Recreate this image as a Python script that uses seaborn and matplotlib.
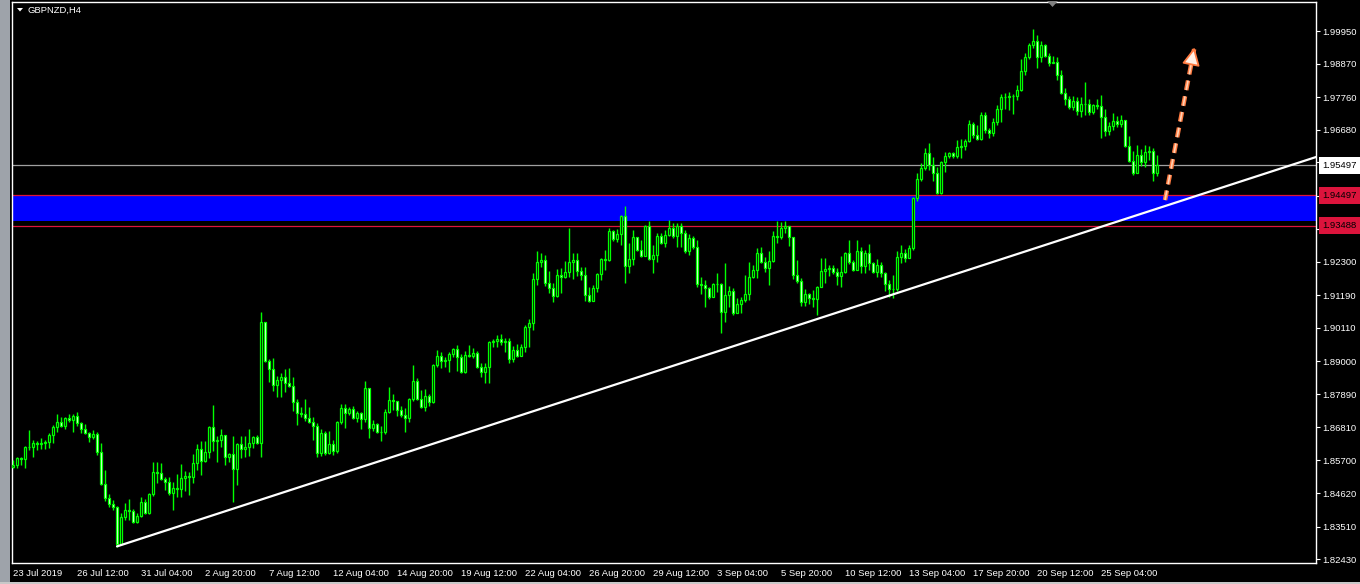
import numpy as np
import pandas as pd
import seaborn as sns
import matplotlib.pyplot as plt
from matplotlib.patches import Polygon, Rectangle
from matplotlib.transforms import blended_transform_factory

sns.set_style("dark", {"axes.facecolor": "black", "figure.facecolor": "black"})
plt.rcParams['font.family'] = ['Liberation Sans', 'DejaVu Sans']

# GBPNZD H4 candles, 23 Jul 2019 20:00 .. 27 Sep 2019 (open = previous close)
first_open = 1.8548
closes = [
    1.8555, 1.8578, 1.8575, 1.8615, 1.8615, 1.8628, 1.8625, 1.8628, 1.8631, 1.8655,
    1.8681, 1.8698, 1.8685, 1.8711, 1.8704, 1.8718, 1.8694, 1.8675, 1.8661, 1.8648,
    1.8658, 1.8598, 1.8492, 1.8446, 1.8426, 1.8416, 1.8293, 1.8383, 1.8406, 1.8402,
    1.8366, 1.8386, 1.8432, 1.8396, 1.8459, 1.8532, 1.8528, 1.8508, 1.8499, 1.8462,
    1.8479, 1.8475, 1.8512, 1.8519, 1.8515, 1.8562, 1.8608, 1.8568, 1.8598, 1.8681,
    1.8635, 1.8638, 1.8655, 1.8581, 1.8591, 1.8542, 1.8625, 1.8608, 1.8615, 1.8628,
    1.8648, 1.8628, 1.9029, 1.8900, 1.8874, 1.8820, 1.8837, 1.8847, 1.8827, 1.8817,
    1.8764, 1.8728, 1.8724, 1.8711, 1.8698, 1.8685, 1.8595, 1.8661, 1.8595, 1.8625,
    1.8602, 1.8698, 1.8744, 1.8728, 1.8741, 1.8711, 1.8728, 1.8708, 1.8810, 1.8678,
    1.8691, 1.8665, 1.8665, 1.8731, 1.8771, 1.8767, 1.8738, 1.8721, 1.8711, 1.8774,
    1.8834, 1.8774, 1.8747, 1.8784, 1.8764, 1.8887, 1.8917, 1.8900, 1.8903, 1.8923,
    1.8940, 1.8913, 1.8864, 1.8920, 1.8917, 1.8927, 1.8880, 1.8864, 1.8880, 1.8963,
    1.8966, 1.8973, 1.8963, 1.8966, 1.8907, 1.8937, 1.8917, 1.8947, 1.9013, 1.9026,
    1.9172, 1.9229, 1.9235, 1.9159, 1.9142, 1.9116, 1.9185, 1.9179, 1.9195, 1.9229,
    1.9235, 1.9199, 1.9185, 1.9119, 1.9099, 1.9142, 1.9189, 1.9238, 1.9235, 1.9331,
    1.9305, 1.9321, 1.9381, 1.9215, 1.9238, 1.9311, 1.9268, 1.9248, 1.9348, 1.9238,
    1.9252, 1.9315, 1.9291, 1.9318, 1.9341, 1.9315, 1.9348, 1.9325, 1.9265, 1.9308,
    1.9278, 1.9155, 1.9152, 1.9142, 1.9112, 1.9155, 1.9155, 1.9063, 1.9119, 1.9132,
    1.9059, 1.9089, 1.9103, 1.9122, 1.9179, 1.9202, 1.9258, 1.9229, 1.9209, 1.9232,
    1.9315, 1.9311, 1.9341, 1.9348, 1.9311, 1.9185, 1.9165, 1.9096, 1.9122, 1.9109,
    1.9106, 1.9146, 1.9199, 1.9205, 1.9209, 1.9195, 1.9182, 1.9195, 1.9258, 1.9229,
    1.9202, 1.9265, 1.9215, 1.9258, 1.9225, 1.9195, 1.9219, 1.9192, 1.9155, 1.9139,
    1.9139, 1.9245, 1.9258, 1.9242, 1.9275, 1.9441, 1.9504, 1.9540, 1.9590, 1.9550,
    1.9524, 1.9457, 1.9560, 1.9580, 1.9590, 1.9580, 1.9610, 1.9613, 1.9630, 1.9686,
    1.9650, 1.9636, 1.9716, 1.9666, 1.9657, 1.9693, 1.9736, 1.9776, 1.9776, 1.9779,
    1.9779, 1.9799, 1.9862, 1.9909, 1.9949, 1.9962, 1.9909, 1.9949, 1.9912, 1.9889,
    1.9892, 1.9849, 1.9789, 1.9769, 1.9743, 1.9763, 1.9730, 1.9753, 1.9753, 1.9726,
    1.9749, 1.9746, 1.9710, 1.9663, 1.9680, 1.9696, 1.9686, 1.9700, 1.9613, 1.9564,
    1.9524, 1.9583, 1.9560, 1.9593, 1.9597, 1.9524, 1.95497,
]
highs = [
    1.8572, 1.8581, 1.8581, 1.8618, 1.8671, 1.8638, 1.8635, 1.8645, 1.8638, 1.8661,
    1.8688, 1.8724, 1.8714, 1.8714, 1.8724, 1.8724, 1.8731, 1.8698, 1.8691, 1.8665,
    1.8671, 1.8665, 1.8628, 1.8538, 1.8459, 1.8439, 1.8419, 1.8396, 1.8429, 1.8442,
    1.8409, 1.8396, 1.8449, 1.8442, 1.8462, 1.8565, 1.8565, 1.8562, 1.8515, 1.8515,
    1.8499, 1.8525, 1.8558, 1.8535, 1.8532, 1.8591, 1.8625, 1.8635, 1.8635, 1.8685,
    1.8754, 1.8651, 1.8675, 1.8655, 1.8595, 1.8651, 1.8628, 1.8651, 1.8651, 1.8675,
    1.8651, 1.8655, 1.9063, 1.9029, 1.8907, 1.8910, 1.8850, 1.8860, 1.8874, 1.8877,
    1.8847, 1.8774, 1.8747, 1.8774, 1.8747, 1.8714, 1.8694, 1.8675, 1.8668, 1.8668,
    1.8638, 1.8701, 1.8757, 1.8757, 1.8747, 1.8751, 1.8734, 1.8731, 1.8834, 1.8810,
    1.8704, 1.8694, 1.8685, 1.8741, 1.8814, 1.8791, 1.8767, 1.8751, 1.8744, 1.8777,
    1.8887, 1.8844, 1.8804, 1.8807, 1.8791, 1.8890, 1.8937, 1.8930, 1.8913, 1.8930,
    1.8943, 1.8953, 1.8923, 1.8933, 1.8953, 1.8943, 1.8933, 1.8894, 1.8894, 1.8966,
    1.8973, 1.8986, 1.8990, 1.8976, 1.8976, 1.8950, 1.8956, 1.8956, 1.9020, 1.9039,
    1.9192, 1.9265, 1.9258, 1.9252, 1.9199, 1.9159, 1.9205, 1.9209, 1.9232, 1.9341,
    1.9258, 1.9258, 1.9212, 1.9212, 1.9146, 1.9152, 1.9192, 1.9242, 1.9268, 1.9341,
    1.9335, 1.9338, 1.9385, 1.9414, 1.9291, 1.9335, 1.9311, 1.9302, 1.9351, 1.9365,
    1.9285, 1.9325, 1.9325, 1.9335, 1.9368, 1.9358, 1.9358, 1.9358, 1.9335, 1.9321,
    1.9315, 1.9302, 1.9179, 1.9169, 1.9146, 1.9159, 1.9192, 1.9159, 1.9225, 1.9149,
    1.9142, 1.9109, 1.9112, 1.9185, 1.9229, 1.9219, 1.9275, 1.9278, 1.9245, 1.9265,
    1.9331, 1.9365, 1.9361, 1.9365, 1.9335, 1.9311, 1.9235, 1.9175, 1.9139, 1.9126,
    1.9136, 1.9149, 1.9242, 1.9242, 1.9219, 1.9219, 1.9209, 1.9248, 1.9262, 1.9302,
    1.9235, 1.9302, 1.9278, 1.9268, 1.9288, 1.9229, 1.9238, 1.9229, 1.9195, 1.9169,
    1.9185, 1.9265, 1.9285, 1.9272, 1.9285, 1.9444, 1.9524, 1.9557, 1.9607, 1.9623,
    1.9577, 1.9544, 1.9564, 1.9593, 1.9593, 1.9593, 1.9633, 1.9636, 1.9636, 1.9700,
    1.9693, 1.9683, 1.9726, 1.9726, 1.9673, 1.9706, 1.9750, 1.9786, 1.9789, 1.9793,
    1.9786, 1.9816, 1.9902, 1.9922, 1.9955, 2.0002, 1.9982, 1.9962, 1.9952, 1.9922,
    1.9912, 1.9909, 1.9866, 1.9806, 1.9779, 1.9779, 1.9776, 1.9776, 1.9826, 1.9769,
    1.9753, 1.9769, 1.9783, 1.9736, 1.9693, 1.9723, 1.9713, 1.9716, 1.9700, 1.9646,
    1.9597, 1.9617, 1.9603, 1.9617, 1.9613, 1.9607, 1.9583,
]
lows = [
    1.8545, 1.8545, 1.8555, 1.8545, 1.8605, 1.8581, 1.8605, 1.8608, 1.8608, 1.8611,
    1.8628, 1.8665, 1.8681, 1.8675, 1.8698, 1.8665, 1.8685, 1.8661, 1.8658, 1.8631,
    1.8641, 1.8588, 1.8489, 1.8436, 1.8416, 1.8406, 1.8283, 1.8290, 1.8373, 1.8373,
    1.8363, 1.8363, 1.8383, 1.8393, 1.8393, 1.8452, 1.8495, 1.8505, 1.8472, 1.8456,
    1.8406, 1.8449, 1.8449, 1.8469, 1.8456, 1.8495, 1.8538, 1.8522, 1.8565, 1.8578,
    1.8602, 1.8565, 1.8615, 1.8555, 1.8565, 1.8432, 1.8489, 1.8578, 1.8581, 1.8585,
    1.8611, 1.8625, 1.8581, 1.8897, 1.8830, 1.8801, 1.8781, 1.8781, 1.8797, 1.8814,
    1.8734, 1.8688, 1.8714, 1.8701, 1.8694, 1.8638, 1.8581, 1.8585, 1.8588, 1.8591,
    1.8588, 1.8595, 1.8691, 1.8678, 1.8721, 1.8708, 1.8698, 1.8675, 1.8698, 1.8645,
    1.8668, 1.8661, 1.8635, 1.8658, 1.8728, 1.8738, 1.8718, 1.8714, 1.8665, 1.8698,
    1.8767, 1.8771, 1.8744, 1.8734, 1.8751, 1.8761, 1.8880, 1.8877, 1.8880, 1.8864,
    1.8913, 1.8867, 1.8860, 1.8860, 1.8913, 1.8910, 1.8877, 1.8847, 1.8827, 1.8827,
    1.8947, 1.8947, 1.8953, 1.8930, 1.8894, 1.8897, 1.8913, 1.8917, 1.8930, 1.8947,
    1.9003, 1.9152, 1.9212, 1.9149, 1.9126, 1.9096, 1.9112, 1.9126, 1.9175, 1.9179,
    1.9172, 1.9182, 1.9169, 1.9099, 1.9096, 1.9106, 1.9129, 1.9169, 1.9202, 1.9232,
    1.9298, 1.9295, 1.9285, 1.9159, 1.9192, 1.9219, 1.9265, 1.9245, 1.9268, 1.9235,
    1.9192, 1.9229, 1.9288, 1.9278, 1.9315, 1.9308, 1.9278, 1.9278, 1.9258, 1.9252,
    1.9272, 1.9146, 1.9122, 1.9079, 1.9106, 1.9112, 1.9129, 1.8993, 1.9029, 1.9079,
    1.9053, 1.9063, 1.9059, 1.9096, 1.9103, 1.9175, 1.9175, 1.9225, 1.9195, 1.9152,
    1.9229, 1.9291, 1.9305, 1.9325, 1.9281, 1.9172, 1.9159, 1.9083, 1.9083, 1.9089,
    1.9079, 1.9053, 1.9146, 1.9159, 1.9182, 1.9189, 1.9152, 1.9146, 1.9192, 1.9222,
    1.9199, 1.9209, 1.9192, 1.9192, 1.9202, 1.9192, 1.9179, 1.9179, 1.9132, 1.9112,
    1.9109, 1.9132, 1.9225, 1.9229, 1.9258, 1.9268, 1.9431, 1.9497, 1.9534, 1.9534,
    1.9497, 1.9454, 1.9454, 1.9527, 1.9573, 1.9573, 1.9573, 1.9573, 1.9600, 1.9626,
    1.9640, 1.9633, 1.9633, 1.9657, 1.9640, 1.9646, 1.9683, 1.9693, 1.9736, 1.9733,
    1.9720, 1.9766, 1.9796, 1.9849, 1.9902, 1.9939, 1.9872, 1.9892, 1.9909, 1.9879,
    1.9889, 1.9832, 1.9786, 1.9749, 1.9736, 1.9733, 1.9716, 1.9710, 1.9716, 1.9716,
    1.9720, 1.9736, 1.9640, 1.9646, 1.9650, 1.9666, 1.9676, 1.9676, 1.9610, 1.9560,
    1.9517, 1.9524, 1.9547, 1.9544, 1.9567, 1.9497, 1.9514,
]

x_tick_bars = list(range(0, 273, 16))
x_labels = ['23 Jul 2019', '26 Jul 12:00', '31 Jul 04:00', '2 Aug 20:00', '7 Aug 12:00',
            '12 Aug 04:00', '14 Aug 20:00', '19 Aug 12:00', '22 Aug 04:00', '26 Aug 20:00',
            '29 Aug 12:00', '3 Sep 04:00', '5 Sep 20:00', '10 Sep 12:00', '13 Sep 04:00',
            '17 Sep 20:00', '20 Sep 12:00', '25 Sep 04:00']
price_ticks = [1.99950, 1.98870, 1.97760, 1.96680, 1.95590, 1.94480, 1.93380, 1.92300,
               1.91190, 1.90110, 1.89000, 1.87890, 1.86810, 1.85700, 1.84620, 1.83510, 1.82430]

zone_top, zone_bottom, zone_line = 1.94497, 1.93642, 1.93488
bid = 1.95497
trend_bars = [26, 326]
trend_prices = [1.8285, 1.9578]
arrow_bars = [288, 295.5]
arrow_prices = [1.9434, 1.9950]

lime = '#00ff00'
W, H = 1360, 584

df = pd.DataFrame({'open': [first_open] + closes[:-1], 'high': highs,
                   'low': lows, 'close': closes})
df['bar'] = np.arange(len(df))
top = df[['open', 'close']].max(axis=1)
bot = df[['open', 'close']].min(axis=1)
up = df['close'] >= df['open']

fig = plt.figure(figsize=(13.6, 5.84), dpi=100, facecolor='black')
ax = fig.add_axes([12 / W, 1 - 563 / H, 1304 / W, 561 / H])
ax.set_facecolor('black')
ax.grid(False)

# support zone and price lines
ax.axhspan(zone_bottom, zone_top, color='#0000ff', lw=0, zorder=1)
ax.axhline(zone_top, color='#dc143c', lw=0.9, zorder=1.5)
ax.axhline(zone_line, color='#dc143c', lw=0.9, zorder=1.5)
ax.axhline(bid, color='#a0a0a0', lw=0.9, zorder=1.6)

# candles
ax.vlines(df['bar'], np.minimum(df['low'], bot), np.maximum(df['high'], top),
          color=lime, lw=1.0, zorder=3)
ax.bar(df['bar'], (top - bot).clip(lower=0.00003), bottom=bot, width=0.5,
       color=np.where(up, 'black', 'white'), edgecolor=lime, linewidth=0.9, zorder=4)

# trend line
sns.lineplot(x=trend_bars, y=trend_prices, color='white', linewidth=1.6, ax=ax, zorder=6)

# dashed arrow
ax.plot(arrow_bars, arrow_prices, ls=(0, (2.2, 1.4)), color='#ff7a40', lw=3.2,
        dash_capstyle='butt', zorder=7)
ax.plot(arrow_bars, arrow_prices, ls=(0, (2.2 * 3.2 / 1.2, 1.4 * 3.2 / 1.2)),
        color='#ffd2b4', lw=1.2, dash_capstyle='butt', zorder=7.1)
ax.annotate('', xy=(arrow_bars[1], arrow_prices[1]),
            xytext=(arrow_bars[1] - 0.9, arrow_prices[1] - 0.006),
            arrowprops=dict(arrowstyle='-|>,head_length=1.1,head_width=0.55',
                            fc='#fff0e6', ec='#ff7a40', lw=1.3), zorder=8)

ax.set_xlim(-0.25, 325.75)
ax.set_ylim(1.82299, 2.00913)

for s in ax.spines.values():
    s.set_color('white')
    s.set_linewidth(1)

ax.set_xticks(x_tick_bars)
ax.set_xticklabels(x_labels, ha='left', fontsize=6.8, color='white')
ax.tick_params(axis='x', colors='white', length=3, width=0.8, pad=1)
ax.yaxis.tick_right()
ax.set_yticks(price_ticks)
ax.set_yticklabels([f'{v:.5f}' for v in price_ticks], fontsize=6.8, color='white')
ax.tick_params(axis='y', colors='white', length=3, width=0.8, pad=1.5)
ax.set_xlabel('')
ax.set_ylabel('')

# price tags on the scale
trans = blended_transform_factory(ax.transAxes, ax.transData)
for price, fc in [(bid, 'white'), (zone_top, '#dc143c'), (zone_line, '#dc143c')]:
    ax.text(1.005, price, f'{price:.5f}', transform=trans, ha='left', va='center',
            fontsize=6.8, color='black', clip_on=False, zorder=10,
            bbox=dict(boxstyle='square,pad=0.42', fc=fc, ec='none'))

# window decorations
fig.text(28 / W, 1 - 10 / H, 'GBPNZD,H4', color='white', fontsize=6.8, va='center')
fig.patches.append(Polygon([(17 / W, 1 - 8 / H), (23 / W, 1 - 8 / H), (20 / W, 1 - 11.5 / H)],
                           closed=True, fc='white', ec='none', transform=fig.transFigure))
fig.patches.append(Polygon([(1047 / W, 1 - 1 / H), (1058 / W, 1 - 1 / H), (1052.5 / W, 1 - 7 / H)],
                           closed=True, fc='#808080', ec='none', transform=fig.transFigure))
fig.patches.append(Rectangle((0, 0), 10 / W, 1, fc='#9ea3aa', ec='none', transform=fig.transFigure))
fig.patches.append(Rectangle((0, 0), 1, 2 / H, fc='#c8c8c8', ec='none', transform=fig.transFigure))

fig.savefig('out.png', dpi=100, facecolor='black')
